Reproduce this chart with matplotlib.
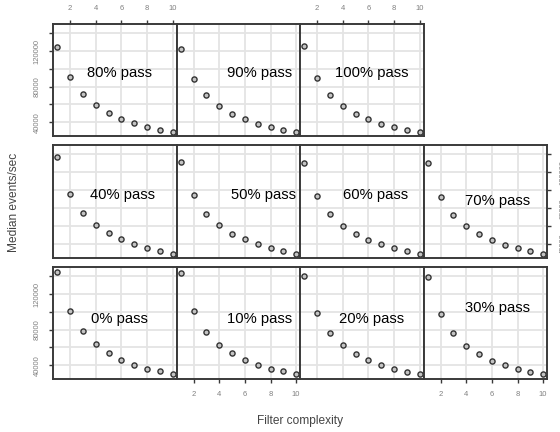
import matplotlib
matplotlib.use("Agg")
import matplotlib.pyplot as plt
import numpy as np

plt.rcParams['font.family'] = ['Liberation Sans', 'DejaVu Sans']

complexity = [1, 2, 3, 4, 5, 6, 7, 8, 9, 10]
pass_labels = ["0% pass", "10% pass", "20% pass", "30% pass", "40% pass", "50% pass",
               "60% pass", "70% pass", "80% pass", "90% pass", "100% pass"]
events = {
    "0% pass":   [144800, 101300, 78100, 63500, 53900, 46400, 40800, 36300, 33000, 29900],
    "10% pass":  [143300, 100500, 77400, 63200, 53400, 46000, 40400, 36300, 33000, 29900],
    "20% pass":  [140200, 99000, 76300, 62800, 53100, 45600, 40400, 36000, 32600, 29600],
    "30% pass":  [138700, 97900, 75900, 62000, 52800, 45300, 40000, 36000, 32600, 29600],
    "40% pass":  [136600, 96200, 74800, 61700, 52400, 45300, 40000, 35500, 32500, 29500],
    "50% pass":  [131800, 94700, 74100, 61000, 51600, 45300, 39600, 35500, 32500, 29500],
    "60% pass":  [129900, 93600, 73400, 60600, 51600, 44800, 39600, 35100, 32100, 29100],
    "70% pass":  [129900, 92000, 72600, 59900, 50900, 44800, 39300, 35100, 32100, 29100],
    "80% pass":  [124500, 90800, 71500, 59400, 50400, 44100, 38900, 34700, 31800, 28800],
    "90% pass":  [122800, 89100, 70700, 58300, 49800, 43400, 38500, 34700, 31400, 28800],
    "100% pass": [125400, 89800, 70700, 58300, 49800, 43400, 38500, 34700, 31800, 28800],
}
# label placement (data coords) per panel
label_pos = {
    "0% pass": (5.86, 92300), "10% pass": (7.18, 92300), "20% pass": (6.25, 92300),
    "30% pass": (6.41, 103900), "40% pass": (6.12, 95100), "50% pass": (7.47, 95100),
    "60% pass": (6.57, 95100), "70% pass": (6.42, 88300), "80% pass": (5.82, 95400),
    "90% pass": (7.15, 95400), "100% pass": (6.25, 95400),
}
x_ticks = [2, 4, 6, 8, 10]
y_ticks = [40000, 60000, 80000, 100000, 120000, 140000]
y_ticklabels = ["40000", "", "80000", "", "120000", ""]

W, H = 560, 432
fig = plt.figure(figsize=(W / 100, H / 100), dpi=100)

col_left = [53, 176.5, 300, 423.5]
col_w = 123.5
rows = [(24, 136), (145, 258), (267, 379)]
layout = [
    ["80% pass", "90% pass", "100% pass", None],
    ["40% pass", "50% pass", "60% pass", "70% pass"],
    ["0% pass", "10% pass", "20% pass", "30% pass"],
]

spine_c = '#3a3a3a'
tick_lab_c = '#808080'

for r, row in enumerate(layout):
    top, bot = rows[r]
    for c, name in enumerate(row):
        if name is None:
            continue
        ax = fig.add_axes([col_left[c] / W, 1 - bot / H, col_w / W, (bot - top) / H])
        ax.set_xlim(0.67, 10.3)
        ax.set_ylim(24500, 150500)
        ax.set_xticks(x_ticks)
        ax.set_yticks(y_ticks)
        ax.grid(True, color='#e4e4e4', lw=1.3)
        ax.set_axisbelow(True)
        for s in ax.spines.values():
            s.set_color(spine_c)
            s.set_linewidth(1.4)
        ax.plot(complexity, events[name], 'o', ms=3.7, mfc='#c4c4c4', mec='#333333', mew=1.0)
        lx, ly = label_pos[name]
        ax.text(lx, ly, name, ha='center', va='center', fontsize=10.6, color='black')

        show_top = (r == 0 and c in (0, 2))
        show_bottom = (r == 2 and c in (1, 3))
        show_left = (c == 0 and r in (0, 2))
        show_right = (r == 1 and c == 3)
        ax.tick_params(axis='x', which='both', direction='out', length=3, width=1, color=spine_c,
                       labelsize=5.5, labelcolor=tick_lab_c, pad=6,
                       top=show_top, labeltop=show_top, bottom=show_bottom, labelbottom=show_bottom)
        ax.tick_params(axis='y', which='both', direction='out', length=3, width=1, color=spine_c,
                       labelsize=5.5, labelcolor=tick_lab_c, pad=6,
                       left=show_left, labelleft=show_left, right=show_right, labelright=show_right)
        ax.set_xticklabels([str(t) for t in x_ticks])
        ax.set_yticklabels(y_ticklabels)
        for lab in ax.get_yticklabels():
            lab.set_rotation(90)
            lab.set_va('center')

fig.text(14 / W, 1 - 202 / H, "Median events/sec", rotation=90, ha='center', va='center',
         fontsize=8.6, color='#444444')
fig.text(300 / W, 1 - 421 / H, "Filter complexity", ha='center', va='center',
         fontsize=8.6, color='#444444')

fig.savefig("out.png", dpi=100)
